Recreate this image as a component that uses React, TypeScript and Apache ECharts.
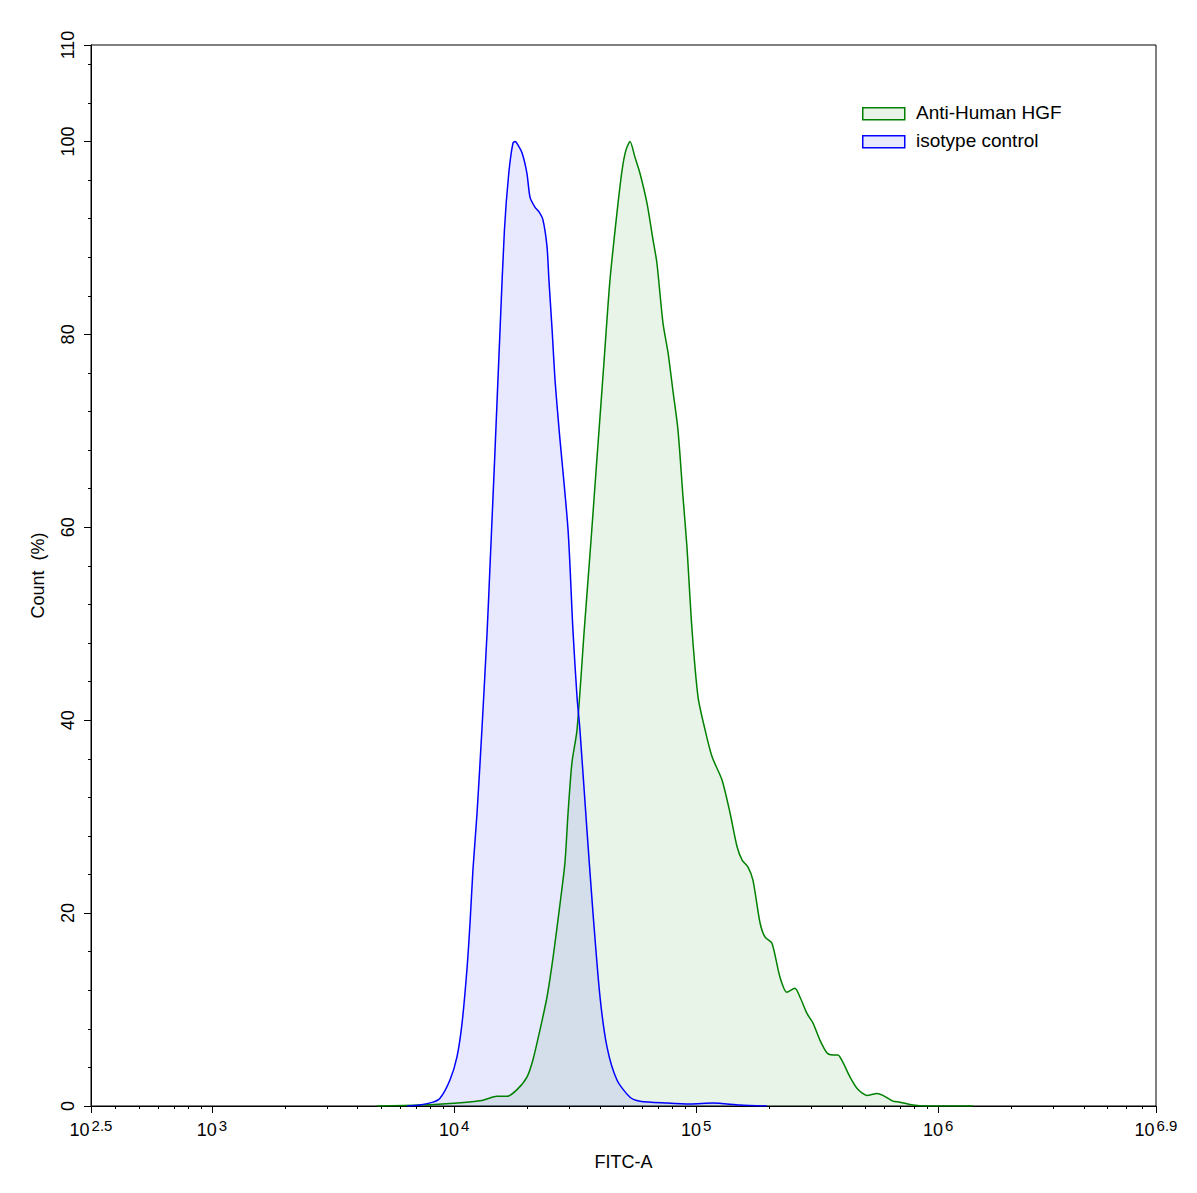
import React, { useEffect, useRef } from "react";
import * as echarts from "echarts";

// FITC-A intensity as log10 values, Count (%) values
const isotypeLogX = [3.806, 3.859, 3.913, 3.942, 3.983, 4.012, 4.033, 4.053, 4.066, 4.078, 4.095, 4.115, 4.137, 4.149, 4.167, 4.19, 4.208, 4.226, 4.243, 4.252, 4.26, 4.281, 4.301, 4.314, 4.334, 4.351, 4.367, 4.384, 4.392, 4.405, 4.417, 4.434, 4.471, 4.491, 4.508, 4.52, 4.549, 4.574, 4.603, 4.632, 4.673, 4.727, 4.768, 4.88, 4.975, 5.07, 5.181, 5.293];
const isotypeCount = [0, 0.1, 0.4, 0.8, 2.7, 5.1, 8.6, 14.1, 19.0, 24.5, 30.4, 39.0, 49.4, 56.3, 66.7, 80.5, 90.8, 96.7, 99.8, 100, 99.8, 98.8, 96.7, 94.2, 93.2, 92.7, 91.9, 89.1, 85.6, 80.5, 75.3, 70.1, 59.7, 49.4, 42.4, 39.0, 28.6, 20.0, 11.3, 6.1, 2.7, 0.9, 0.5, 0.3, 0.2, 0.3, 0.1, 0];

const hgfLogX = [3.682, 3.859, 4.053, 4.12, 4.177, 4.219, 4.26, 4.301, 4.326, 4.355, 4.384, 4.409, 4.438, 4.458, 4.471, 4.487, 4.508, 4.538, 4.566, 4.589, 4.599, 4.619, 4.644, 4.673, 4.694, 4.71, 4.727, 4.747, 4.768, 4.797, 4.822, 4.838, 4.863, 4.884, 4.904, 4.925, 4.946, 4.962, 4.983, 5.008, 5.037, 5.066, 5.107, 5.14, 5.169, 5.19, 5.214, 5.235, 5.264, 5.285, 5.313, 5.346, 5.375, 5.408, 5.429, 5.458, 5.483, 5.512, 5.541, 5.566, 5.586, 5.607, 5.636, 5.669, 5.706, 5.747, 5.772, 5.813, 5.842, 5.896, 5.954, 6.144];
const hgfCount = [0, 0.1, 0.4, 0.6, 1.0, 1.0, 1.7, 3.0, 4.8, 7.9, 11.3, 15.4, 21.0, 25.2, 30.4, 35.6, 39.0, 49.4, 58.7, 66.7, 70.1, 77.0, 85.6, 92.6, 97.0, 99.1, 100, 98.4, 96.7, 93.6, 89.8, 87.4, 81.2, 78.1, 74.2, 70.1, 63.1, 58.0, 49.4, 42.4, 39.0, 36.2, 33.8, 30.4, 26.9, 25.5, 24.8, 23.4, 19.0, 17.5, 16.9, 13.4, 11.8, 12.2, 11.3, 9.6, 8.6, 6.8, 5.5, 5.3, 5.3, 4.5, 3.0, 1.7, 1.1, 1.3, 1.1, 0.5, 0.4, 0.1, 0, 0];

const seriesNames = ["Anti-Human HGF", "isotype control"];
const xMajorTicks = [2.5, 3, 4, 5, 6, 6.9];
const xMajorLabels = ["2.5", "3", "4", "5", "6", "6.9"];
const yMajorTicks = [0, 20, 40, 60, 80, 100, 110];
const yMinorStep = 4;

const xMin = 2.5;
const xMax = 6.9;

function buildXMinor(): number[] {
  const out: number[] = [];
  for (let n = 2; n <= 6; n++) {
    for (let k = 2; k <= 9; k++) {
      const v = Math.log10(k * Math.pow(10, n));
      if (v > xMin + 1e-6 && v < xMax - 1e-6) out.push(v);
    }
  }
  return out;
}
function buildYMinor(): number[] {
  const out: number[] = [];
  for (let v = yMinorStep; v < 110; v += yMinorStep) {
    if (v % 20 !== 0) out.push(v);
  }
  return out;
}

const FONT = "Liberation Sans, Arial, Helvetica, sans-serif";
const GREEN = "#008000";
const BLUE = "#0000ff";
const GREEN_FILL = "rgba(0,128,0,0.09)";
const BLUE_FILL = "rgba(0,0,255,0.09)";

export default function App() {
  const ref = useRef<HTMLDivElement>(null);
  useEffect(() => {
    if (!ref.current) return;
    const chart = echarts.init(ref.current, null, { renderer: "svg" });
    const grid = { left: 91, right: 41, top: 45, bottom: 87, show: true, borderColor: "#000", borderWidth: 1, backgroundColor: "transparent" };
    const option: any = {
      animation: false,
      backgroundColor: "#fff",
      grid,
      xAxis: [
        {
          type: "value",
          min: xMin,
          max: xMax,
          name: "FITC-A",
          nameLocation: "middle",
          nameGap: 47,
          nameTextStyle: { fontFamily: FONT, fontSize: 18, color: "#000" },
          axisLine: { show: true, lineStyle: { color: "#000", width: 1 } },
          axisTick: { show: true, length: 7, customValues: xMajorTicks, lineStyle: { color: "#000" } },
          axisLabel: {
            show: true,
            customValues: xMajorTicks,
            margin: 12,
            formatter: (v: number) => {
              const i = xMajorTicks.findIndex((t) => Math.abs(t - v) < 1e-6);
              return "{b|10}{s|" + (i >= 0 ? xMajorLabels[i] : "") + "}";
            },
            rich: {
              b: { fontFamily: FONT, fontSize: 18, color: "#000" },
              s: { fontFamily: FONT, fontSize: 15, color: "#000", padding: [0, 0, 9, 2] },
            },
          },
          splitLine: { show: false },
        },
        {
          type: "value",
          min: xMin,
          max: xMax,
          position: "bottom",
          axisLine: { show: false },
          axisTick: { show: true, length: 3, customValues: buildXMinor(), lineStyle: { color: "#000" } },
          axisLabel: { show: false },
          splitLine: { show: false },
        },
      ],
      yAxis: [
        {
          type: "value",
          min: 0,
          max: 110,
          name: "Count  (%)",
          nameLocation: "middle",
          nameRotate: 90,
          nameGap: 44,
          nameTextStyle: { fontFamily: FONT, fontSize: 18, color: "#000" },
          axisLine: { show: true, lineStyle: { color: "#000", width: 1 } },
          axisTick: { show: true, length: 7, customValues: yMajorTicks, lineStyle: { color: "#000" } },
          axisLabel: {
            show: true,
            customValues: yMajorTicks,
            rotate: 90,
            margin: 14,
            fontFamily: FONT,
            fontSize: 18,
            color: "#000",
          },
          splitLine: { show: false },
        },
        {
          type: "value",
          min: 0,
          max: 110,
          position: "left",
          axisLine: { show: false },
          axisTick: { show: true, length: 3, customValues: buildYMinor(), lineStyle: { color: "#000" } },
          axisLabel: { show: false },
          splitLine: { show: false },
        },
      ],
      series: [
        {
          name: seriesNames[0],
          type: "line",
          xAxisIndex: 0,
          yAxisIndex: 0,
          data: hgfLogX.map((x, i) => [x, hgfCount[i]]),
          showSymbol: false,
          smooth: 0.25,
          lineStyle: { color: GREEN, width: 1.5 },
          itemStyle: { color: GREEN },
          areaStyle: { color: GREEN_FILL, opacity: 1, origin: "start" },
        },
        {
          name: seriesNames[1],
          type: "line",
          xAxisIndex: 0,
          yAxisIndex: 0,
          data: isotypeLogX.map((x, i) => [x, isotypeCount[i]]),
          showSymbol: false,
          smooth: 0.25,
          lineStyle: { color: BLUE, width: 1.5 },
          itemStyle: { color: BLUE },
          areaStyle: { color: BLUE_FILL, opacity: 1, origin: "start" },
        },
      ],
      graphic: [
        { type: "rect", left: 862, top: 107, shape: { width: 42, height: 12 }, style: { fill: GREEN_FILL, stroke: GREEN, lineWidth: 1.5 } },
        { type: "text", left: 916, top: 103, style: { text: seriesNames[0], fontFamily: FONT, fontSize: 19, fill: "#000" } },
        { type: "rect", left: 862, top: 135, shape: { width: 42, height: 12 }, style: { fill: BLUE_FILL, stroke: BLUE, lineWidth: 1.5 } },
        { type: "text", left: 916, top: 131, style: { text: seriesNames[1], fontFamily: FONT, fontSize: 19, fill: "#000" } },
      ],
    };
    chart.setOption(option);
    return () => chart.dispose();
  }, []);
  return <div ref={ref} style={{ position: "absolute", left: 0, top: 0, width: 1197, height: 1193 }} />;
}
